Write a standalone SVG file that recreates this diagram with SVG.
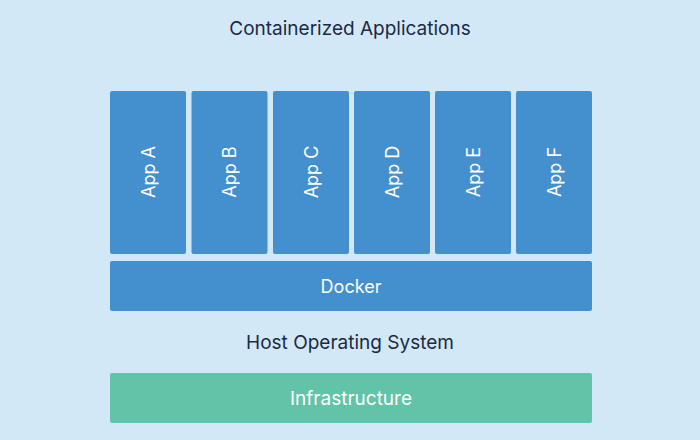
<svg xmlns="http://www.w3.org/2000/svg" width="700" height="440" viewBox="0 0 700 440">
<style>
.bg{fill:#d3e8f7}
.app{fill:#4490cf}
.inf{fill:#62c3a9}
.lbl{font-family:"Inter","Liberation Sans",sans-serif;fill:#ffffff;text-anchor:middle;dominant-baseline:central}
.hdr{font-family:"Inter","Liberation Sans",sans-serif;fill:#1b2a44;text-anchor:middle;dominant-baseline:central;font-size:19px}
</style>
<rect class="bg" x="0" y="0" width="700" height="440"/>
<text class="hdr" x="350" y="28">Containerized Applications</text>
<g id="appA"><rect class="app" x="110" y="91" width="76" height="163" rx="2"/><text class="lbl" font-size="18" transform="translate(148,172) rotate(-90)">App A</text></g>
<g id="appB"><rect class="app" x="191.5" y="91" width="76" height="163" rx="2"/><text class="lbl" font-size="18" transform="translate(229.5,172) rotate(-90)">App B</text></g>
<g id="appC"><rect class="app" x="273" y="91" width="76" height="163" rx="2"/><text class="lbl" font-size="18" transform="translate(311,172) rotate(-90)">App C</text></g>
<g id="appD"><rect class="app" x="354" y="91" width="76" height="163" rx="2"/><text class="lbl" font-size="18" transform="translate(392,172) rotate(-90)">App D</text></g>
<g id="appE"><rect class="app" x="435" y="91" width="76" height="163" rx="2"/><text class="lbl" font-size="18" transform="translate(473,172) rotate(-90)">App E</text></g>
<g id="appF"><rect class="app" x="516" y="91" width="76" height="163" rx="2"/><text class="lbl" font-size="18" transform="translate(554,172) rotate(-90)">App F</text></g>
<g id="docker"><rect class="app" x="110" y="261" width="482" height="50" rx="2"/><text class="lbl" font-size="18" x="351" y="286">Docker</text></g>
<text class="hdr" x="350" y="342">Host Operating System</text>
<g id="infrastructure"><rect class="inf" x="110" y="373" width="482" height="50" rx="2"/><text class="lbl" font-size="19" x="351" y="398">Infrastructure</text></g>
<g id="connectors"></g>
</svg>
